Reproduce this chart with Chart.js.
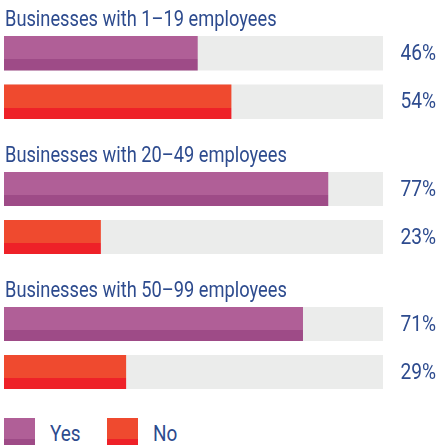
<!DOCTYPE html>
<html>
<head>
<meta charset="utf-8">
<script src="https://cdn.jsdelivr.net/npm/chart.js@4"></script>
<style>
  html, body { margin: 0; padding: 0; background: #ffffff; overflow: hidden; }
  #wrap { width: 440px; height: 445px; position: relative; }
  .box { position: relative; width: 440px; }
  #legend { position: relative; height: 39px; width: 440px; }
  .item { position: absolute; top: 12px; height: 31px; }
  .sw { position: absolute; left: 0; top: 0; width: 31px; height: 31px; }
  .lbl { position: absolute; top: 0px; font-family: Roboto, "Liberation Sans", sans-serif; font-weight: 400;
         font-size: 22px; color: #2d4b8e; line-height: 31px; transform: scaleX(0.86); transform-origin: left center; white-space: nowrap; }
</style>
</head>
<body>
<div id="wrap">
  <div class="box" style="height:136px"><canvas id="c0"></canvas></div>
  <div class="box" style="height:135px"><canvas id="c1"></canvas></div>
  <div class="box" style="height:135px"><canvas id="c2"></canvas></div>
  <div id="legend"></div>
</div>
<script>
// ---- data ----
const groups = ['Businesses with 1\u201319 employees', 'Businesses with 20\u201349 employees', 'Businesses with 50\u201399 employees'];
const answers = ['Yes', 'No'];
const yesValues = [46, 77, 71];
const noValues = [54, 23, 29];
const axisMax = 90;

// ---- styles ----
const lightColors = ['#b05f97', '#ef4a2f'];
const darkColors = ['#9e4b87', '#ee2128'];
const trackColor = '#ebeceb';
const textColor = '#2d4b8e';
const barPct = 0.708;
const titleCondense = 0.83;
const valueCondense = 0.87;
const fontFamily = 'Roboto, "Liberation Sans", sans-serif';

function twoTone(ctx) {
  const chart = ctx.chart;
  const i = ctx.dataIndex;
  const ys = chart.scales.y;
  if (ctx.type !== 'data' || !chart.chartArea || !ys || !(ys.height > 0)) return lightColors[i % 2];
  const c = ys.getPixelForValue(i);
  const half = (ys.height / answers.length) * barPct / 2;
  const g = chart.ctx.createLinearGradient(0, c - half, 0, c + half);
  g.addColorStop(0, lightColors[i % 2]);
  g.addColorStop(0.675, lightColors[i % 2]);
  g.addColorStop(0.675, darkColors[i % 2]);
  g.addColorStop(1, darkColors[i % 2]);
  return g;
}

const labelPlugin = {
  id: 'groupLabels',
  afterDatasetsDraw(chart, args, opts) {
    const ctx = chart.ctx;
    const area = chart.chartArea;
    ctx.save();
    ctx.fillStyle = textColor;
    ctx.font = '400 22px ' + fontFamily;
    // title
    ctx.save();
    ctx.translate(area.left + 1, area.top - 3);
    ctx.scale(titleCondense, 1);
    ctx.textAlign = 'left';
    ctx.textBaseline = 'alphabetic';
    ctx.fillText(opts.title, 0, 0);
    ctx.restore();
    // values
    const meta = chart.getDatasetMeta(0);
    const ds = chart.data.datasets[0].data;
    meta.data.forEach((el, j) => {
      ctx.save();
      ctx.translate(chart.width - 4, el.y + 1);
      ctx.scale(valueCondense, 1);
      ctx.textAlign = 'right';
      ctx.textBaseline = 'middle';
      ctx.fillText(ds[j] + '%', 0, 0);
      ctx.restore();
    });
    ctx.restore();
  }
};

groups.forEach((title, gi) => {
  new Chart(document.getElementById('c' + gi), {
    type: 'bar',
    data: {
      labels: answers,
      datasets: [
        { label: 'value', data: [yesValues[gi], noValues[gi]], backgroundColor: twoTone, order: 1 },
        { label: 'track', data: answers.map(() => axisMax), backgroundColor: trackColor, order: 2 }
      ]
    },
    options: {
      indexAxis: 'y',
      responsive: true,
      maintainAspectRatio: false,
      animation: false,
      events: [],
      datasets: { bar: { grouped: false, barPercentage: barPct, categoryPercentage: 1, borderWidth: 0, borderSkipped: false } },
      layout: { padding: { top: 29, bottom: 10, left: 4, right: 57 } },
      scales: {
        x: { display: false, min: 0, max: axisMax },
        y: { display: false }
      },
      plugins: {
        legend: { display: false },
        tooltip: { enabled: false },
        groupLabels: { title: title }
      }
    },
    plugins: [labelPlugin]
  });
});

// legend
const legend = document.getElementById('legend');
const legendX = [4, 107];
answers.forEach((a, i) => {
  const item = document.createElement('div');
  item.className = 'item';
  item.style.left = legendX[i] + 'px';
  const sw = document.createElement('div');
  sw.className = 'sw';
  sw.style.background = 'linear-gradient(to bottom,' + lightColors[i] + ' 0%,' + lightColors[i] + ' 68%,' + darkColors[i] + ' 68%,' + darkColors[i] + ' 100%)';
  const lbl = document.createElement('div');
  lbl.className = 'lbl';
  lbl.style.left = '46px';
  lbl.textContent = a;
  item.appendChild(sw);
  item.appendChild(lbl);
  legend.appendChild(item);
});
</script>
</body>
</html>
